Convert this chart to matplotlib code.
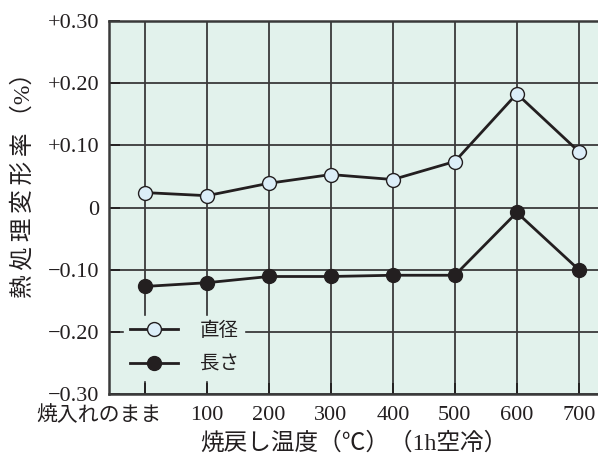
import matplotlib
matplotlib.use('Agg')
import matplotlib.pyplot as plt
from matplotlib.transforms import ScaledTranslation

plt.rcParams['font.family'] = ['Liberation Serif', 'Noto Sans CJK JP']
plt.rcParams['axes.unicode_minus'] = True

# 焼戻し温度ごとの熱処理変形率 (%)
temps = ['焼入れのまま', '100', '200', '300', '400', '500', '600', '700']
diameter = [0.024, 0.019, 0.039, 0.053, 0.045, 0.074, 0.183, 0.090]
length = [-0.127, -0.121, -0.111, -0.111, -0.109, -0.109, -0.008, -0.100]
yticks = [0.30, 0.20, 0.10, 0, -0.10, -0.20, -0.30]
ylabels = ['+0.30', '+0.20', '+0.10', '0', '\u22120.10', '\u22120.20', '\u22120.30']

bg = '#e2f2ec'
ink = '#231f20'

fig = plt.figure(figsize=(5.98, 4.57), dpi=100)
ax = fig.add_axes([0.1823, 0.1379, 0.8177, 0.8161])
ax.set_facecolor(bg)

x = list(range(len(temps)))

# grid drawn by hand so the legend box can sit over it but under the ticks
for xi in x:
    ax.axvline(xi, color='#3a3a3a', lw=1.3, zorder=1)
for yv in yticks:
    ax.axhline(yv, color='#3a3a3a', lw=1.3, zorder=1)

ax.plot(x, diameter, '-o', color=ink, lw=2, ms=10, mfc='#dceef8', mec=ink,
        mew=1.0, label='直径', zorder=3)
ax.plot(x, length, '-o', color=ink, lw=2, ms=10, mfc=ink, mec=ink,
        label='長さ', zorder=3)

ax.set_xlim(-0.58, 7.31)
ax.set_ylim(-0.30, 0.30)
ax.set_xticks(x)
ax.set_xticklabels(temps)
ax.set_yticks(yticks)
ax.set_yticklabels(ylabels)
ax.tick_params(direction='in', length=8, width=1.3, labelsize=16, color=ink,
               labelcolor=ink, pad=7)
ax.tick_params(axis='x', pad=9)

# first category label sits left of its tick
first = ax.get_xticklabels()[0]
first.set_fontsize(15)
first.set_transform(first.get_transform() + ScaledTranslation(-0.46, 0, fig.dpi_scale_trans))

for s in ['left', 'bottom', 'top']:
    ax.spines[s].set_linewidth(1.8)
    ax.spines[s].set_color('#3a3a3a')
ax.spines['right'].set_visible(False)

ax.set_xlabel('焼戻し温度（℃）（1h空冷）', fontsize=17, color=ink, labelpad=4)
ax.set_ylabel('熱\u2009処\u2009理\u2009変\u2009形\u2009率\u2009（%）', fontsize=17, color=ink)
ax.yaxis.set_label_coords(-0.152, 0.574)

leg = ax.legend(loc='upper left', bbox_to_anchor=(0.03, 0.21), frameon=True,
                facecolor=bg, edgecolor=bg, framealpha=1, fontsize=14,
                handlelength=2.5, handletextpad=1.1, labelspacing=0.85,
                borderpad=0.3, borderaxespad=0, fancybox=False)
leg.set_zorder(1.2)
for t in leg.get_texts():
    t.set_color(ink)

fig.savefig('out.png', dpi=100)
